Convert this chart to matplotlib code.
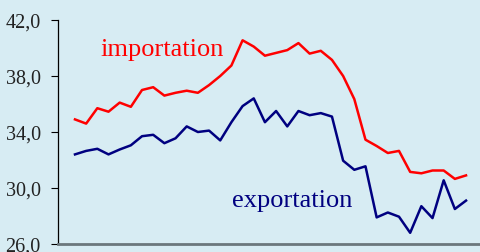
import numpy as np
import matplotlib.pyplot as plt

# taux d'importation / exportation
importation = [34.9, 34.6, 35.7, 35.45, 36.1, 35.8, 37.0, 37.2, 36.6, 36.8,
               36.95, 36.8, 37.35, 38.0, 38.75, 40.55, 40.1, 39.45, 39.65, 39.85,
               40.35, 39.6, 39.8, 39.15, 38.0, 36.35, 33.45, 33.0, 32.5, 32.65,
               31.15, 31.05, 31.25, 31.25, 30.65, 30.9]
exportation = [32.4, 32.65, 32.8, 32.4, 32.75, 33.05, 33.7, 33.8, 33.2, 33.55,
               34.4, 34.0, 34.1, 33.4, 34.7, 35.85, 36.4, 34.7, 35.5, 34.4,
               35.5, 35.2, 35.35, 35.1, 31.95, 31.3, 31.55, 27.9, 28.25, 27.95,
               26.8, 28.7, 27.85, 30.55, 28.5, 29.1]
yticks = [26.0, 30.0, 34.0, 38.0, 42.0]
ytick_labels = ["26,0", "30,0", "34,0", "38,0", "42,0"]

bg = "#d7ecf3"
plt.rcParams['font.family'] = ['Liberation Serif', 'DejaVu Serif']

fig = plt.figure(figsize=(4.8, 2.53), dpi=100, facecolor=bg)
ax = fig.add_axes([58 / 480, 1 - 245 / 253, 1 - 58 / 480, (245 - 21) / 253])
ax.set_facecolor(bg)

x = np.arange(len(importation))
ax.plot(x, importation, color="#ff0000", lw=1.8)
ax.plot(x, exportation, color="#000080", lw=1.8)

ax.set_xlim(-1.52, 36.25)
ax.set_ylim(26, 42)
ax.set_yticks(yticks)
ax.set_yticklabels(ytick_labels, fontsize=14.5, color="#222222")
ax.tick_params(axis="y", length=5, width=0.8, pad=7.5)
ax.set_xticks([])

for s in ["top", "right"]:
    ax.spines[s].set_visible(False)
ax.spines["left"].set_linewidth(0.9)
ax.spines["bottom"].set_color("#6b777c")
ax.spines["bottom"].set_linewidth(2.0)

ax.text(100 / 480, 1 - 50 / 253, "importation", transform=fig.transFigure,
        color="#ff0000", fontsize=19, va="center", ha="left")
ax.text(232 / 480, 1 - 201 / 253, "exportation", transform=fig.transFigure,
        color="#000080", fontsize=19, va="center", ha="left")

fig.savefig("out.png", dpi=100, facecolor=bg)
